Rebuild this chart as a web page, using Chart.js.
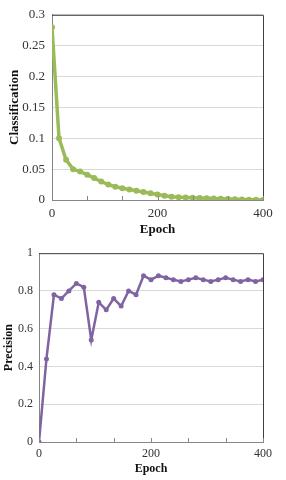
<!DOCTYPE html>
<html>
<head>
<meta charset="utf-8">
<script src="https://cdn.jsdelivr.net/npm/chart.js@4/dist/chart.umd.min.js"></script>
<style>
  html, body { margin: 0; padding: 0; background: #fff; }
  .box { position: relative; width: 286px; height: 240px; }
</style>
</head>
<body>
<div class="box"><canvas id="lossChart" width="286" height="240"></canvas></div>
<div class="box"><canvas id="precChart" width="286" height="240"></canvas></div>
<script>
const EPOCHS = [0, 13.3, 26.7, 40, 53.3, 66.7, 80, 93.3, 106.7, 120, 133.3, 146.7, 160, 173.3, 186.7, 200,
  213.3, 226.7, 240, 253.3, 266.7, 280, 293.3, 306.7, 320, 333.3, 346.7, 360, 373.3, 386.7, 400];
const CLASSIFICATION = [0.28, 0.1, 0.065, 0.05, 0.046, 0.041, 0.0355, 0.03, 0.025, 0.0215, 0.019, 0.017,
  0.015, 0.013, 0.011, 0.0088, 0.0068, 0.0052, 0.0044, 0.004, 0.0036, 0.0032, 0.0028, 0.0024, 0.002,
  0.0016, 0.0012, 0.0009, 0.0006, 0.0004, 0.0002];
const PRECISION = [0, 0.44, 0.78, 0.76, 0.8, 0.84, 0.82, 0.54, 0.74, 0.7, 0.76, 0.72, 0.8, 0.78, 0.88,
  0.86, 0.88, 0.87, 0.86, 0.85, 0.86, 0.87, 0.86, 0.85, 0.86, 0.87, 0.86, 0.85, 0.86, 0.85, 0.86];
const X_TICKS = [0, 66.7, 133.3, 200, 266.7, 333.3, 400];
const X_LABELS = ['0', '', '', '200', '', '', '400'];
const LOSS_TICKS = [0, 0.05, 0.1, 0.15, 0.2, 0.25, 0.3];
const PREC_TICKS = [0, 0.2, 0.4, 0.6, 0.8, 1];

const FONT = 'Liberation Serif';

// frame on top/right + inside tick marks on the x axis, like the Excel original
const framePlugin = {
  id: 'frame',
  afterDraw(chart) {
    const { ctx, chartArea: a, scales } = chart;
    ctx.save();
    ctx.strokeStyle = '#404040';
    ctx.lineWidth = 1;
    ctx.beginPath();
    ctx.moveTo(a.left, a.top + 0.5);
    ctx.lineTo(a.right + 0.5, a.top + 0.5);
    ctx.lineTo(a.right + 0.5, a.bottom);
    ctx.stroke();
    ctx.strokeStyle = '#868686';
    ctx.beginPath();
    scales.x.ticks.forEach(t => {
      const px = Math.round(scales.x.getPixelForValue(t.value)) + 0.5;
      ctx.moveTo(px, a.bottom);
      ctx.lineTo(px, a.bottom - 4);
    });
    ctx.stroke();
    ctx.restore();
  }
};

function makeChart(id, values, yTicks, yMax, title, color, opts) {
  const ctx = document.getElementById(id).getContext('2d');
  return new Chart(ctx, {
    type: 'line',
    data: {
      datasets: [{
        data: EPOCHS.map((e, i) => ({ x: e, y: values[i] })),
        borderColor: color,
        backgroundColor: color,
        borderWidth: opts.lineWidth,
        pointRadius: opts.pointRadius,
        pointBorderWidth: 0,
        tension: 0,
      }]
    },
    options: {
      responsive: false,
      animation: false,
      layout: { padding: { top: 10, right: 23, left: 0, bottom: 0 } },
      plugins: { legend: { display: false }, tooltip: { enabled: false } },
      scales: {
        x: {
          type: 'linear',
          min: 0,
          max: 400,
          afterBuildTicks: s => { s.ticks = X_TICKS.map(v => ({ value: v })); },
          afterFit: s => { s.height = opts.xHeight; },
          ticks: {
            autoSkip: false,
            maxRotation: 0,
            padding: opts.xPad,
            color: '#333',
            font: { family: FONT, size: opts.fontSize },
            callback: (v, i) => X_LABELS[i],
          },
          grid: { display: false, drawTicks: false },
          border: { color: '#868686' },
          title: {
            display: true,
            text: 'Epoch',
            color: '#111',
            font: { family: FONT, size: opts.fontSize, weight: 'bold' },
            padding: { top: 0, bottom: opts.titleBottom },
          },
        },
        y: {
          min: 0,
          max: yMax,
          afterBuildTicks: s => { s.ticks = yTicks.map(v => ({ value: v })); },
          afterFit: s => { s.width = opts.yWidth; },
          ticks: {
            padding: opts.yPad,
            color: '#333',
            font: { family: FONT, size: opts.fontSize },
            callback: v => String(+v.toFixed(2)),
          },
          grid: { color: '#d9d9d9', drawTicks: false },
          border: { color: '#868686' },
          title: {
            display: true,
            text: title,
            color: '#111',
            font: { family: FONT, size: opts.fontSize, weight: 'bold' },
            padding: { top: opts.titleLeft, bottom: 0 },
          },
        }
      }
    },
    plugins: [framePlugin]
  });
}

makeChart('lossChart', CLASSIFICATION, LOSS_TICKS, 0.3, 'Classification', '#9bbb59', {
  lineWidth: 3.5, pointRadius: 3, fontSize: 13, xHeight: 40, yWidth: 52,
  xPad: 6, yPad: 7, titleBottom: 3, titleLeft: 7,
});

makeChart('precChart', PRECISION, PREC_TICKS, 1, 'Precision', '#8064a2', {
  lineWidth: 2.5, pointRadius: 2.5, fontSize: 12, xHeight: 38, yWidth: 39,
  xPad: 5, yPad: 6, titleBottom: 4, titleLeft: 2,
});
</script>
</body>
</html>
